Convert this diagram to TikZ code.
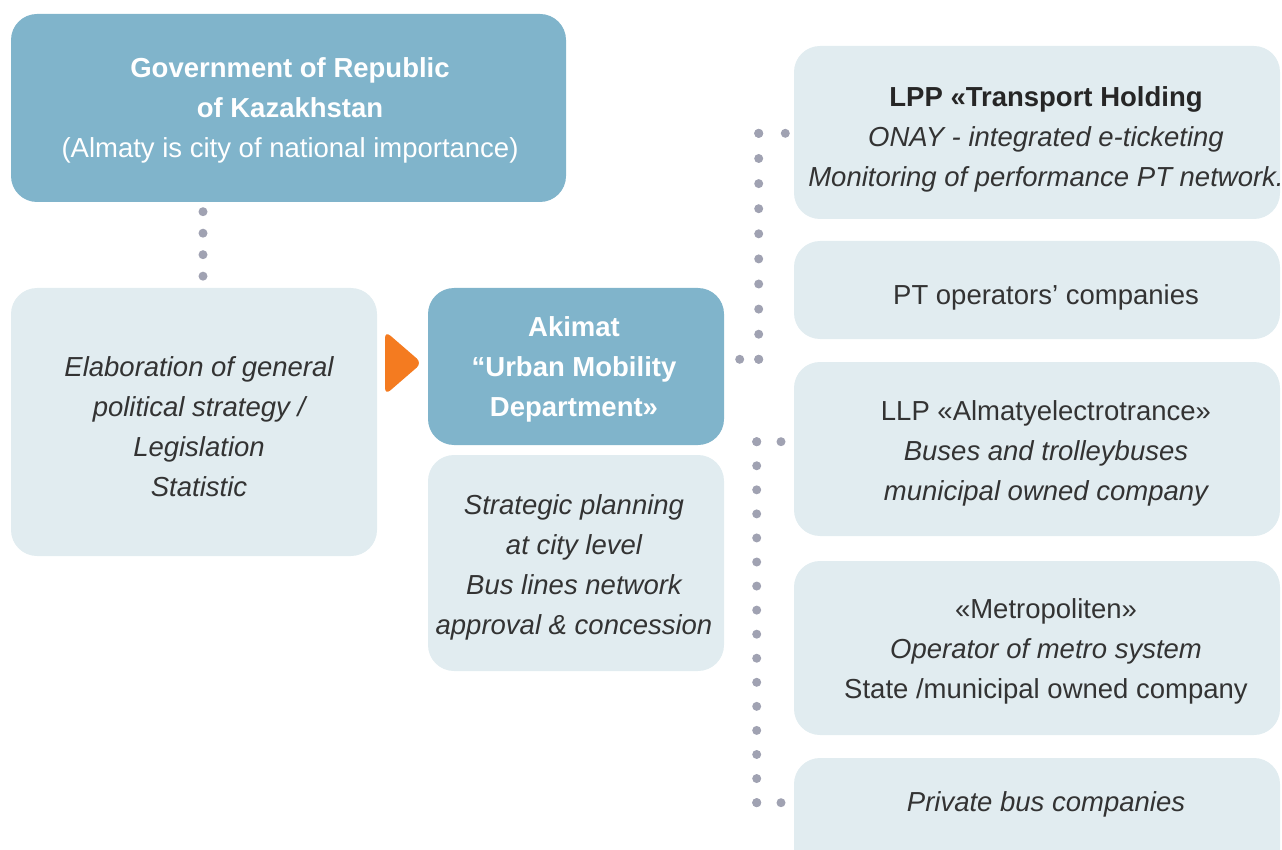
\documentclass[tikz,border=0pt]{standalone}
\usepackage{fontspec}
\setmainfont{Liberation Sans}
\definecolor{bluebox}{HTML}{80B4CB}
\definecolor{lightbox}{HTML}{E1ECF0}
\definecolor{dotc}{HTML}{A0A2B2}
\definecolor{txtc}{HTML}{333333}
\definecolor{orangec}{HTML}{F47B20}
\tikzset{
  boxbase/.style={rounded corners=26pt, inner sep=0pt, align=center, font=\fontsize{27.5}{40}\selectfont},
  bluenode/.style={boxbase, fill=bluebox, text=white},
  lightnode/.style={boxbase, fill=lightbox, text=txtc},
  txtnode/.style={inner sep=0pt, align=center, text=txtc, font=\fontsize{27.5}{40}\selectfont},
  dotline/.style={line width=9pt, line cap=round, draw=dotc, dash pattern=on 0pt off #1},
}
\begin{document}
\begin{tikzpicture}[x=1pt,y=-1pt]
\useasboundingbox (0,0) rectangle (1282,850);
% left part
\node[bluenode, minimum width=555, minimum height=188] (gov) at (288.5,108) {};
\node[txtnode, text=white] (govtxt) at (290,110)
  {\textbf{Government of Republic}\\\textbf{of Kazakhstan}\\(Almaty is city of national importance)};
\node[lightnode, minimum width=366, minimum height=268] (left) at (194,422) {};
\node[txtnode] (lefttxt) at (199,427)
  {\itshape Elaboration of general\\\itshape political strategy /\\\itshape Legislation\\\itshape Statistic};
\node[bluenode, minimum width=296, minimum height=157] (akimat) at (576,366.5) {};
\node[txtnode, text=white] (akimattxt) at (574,369.5)
  {\textbf{Akimat}\\\textbf{“Urban Mobility}\\\textbf{Department»}};
\node[lightnode, minimum width=296, minimum height=216] (strat) at (576,563) {};
\node[txtnode] (strattxt) at (574,567)
  {\itshape Strategic planning\\\itshape at city level\\\itshape Bus lines network\\\itshape approval \& concession};
% right column boxes
\node[lightnode, minimum width=486, minimum height=173] (lpp) at (1037,132.5) {};
\node[txtnode] (lpptxt) at (1046,139)
  {\textbf{\color{black!85}LPP «Transport Holding}\\\itshape ONAY - integrated e-ticketing\\\itshape Monitoring of performance PT network.};
\node[lightnode, minimum width=486, minimum height=98] (pt) at (1037,290) {};
\node[txtnode] (pttxt) at (1046,297) {PT operators’ companies};
\node[lightnode, minimum width=486, minimum height=174] (llp) at (1037,449) {};
\node[txtnode] (llptxt) at (1046,453)
  {LLP «Almatyelectrotrance»\\\itshape Buses and trolleybuses\\\itshape municipal owned company};
\node[lightnode, minimum width=486, minimum height=174] (metro) at (1037,648) {};
\node[txtnode] (metrotxt) at (1046,651)
  {«Metropoliten»\\\itshape Operator of metro system\\State /municipal owned company};
\node[lightnode, minimum width=486, minimum height=122] (priv) at (1037,819) {};
\node[txtnode] (privtxt) at (1046,804) {\itshape Private bus companies};
% orange marker between left box and akimat
\fill[orangec, rounded corners=7pt] (385,331) -- (422,363) -- (385,395) -- cycle;
% dotted connectors
\coordinate (g1) at (203,211.7);
\coordinate (g2) at (203,276.2);
\draw[dotline=21.49] (g1) -- (g2);
\coordinate (u0) at (739.7,359.3);
\coordinate (u1) at (758.7,359.3);
\coordinate (u2) at (758.7,133.3);
\coordinate (u3) at (785.3,133.3);
\draw[dotline=18.99] (u0) -- (u1);
\draw[dotline=25.10] (u1) -- (u2);
\draw[dotline=26.59] (u2) -- (u3);
\coordinate (l1) at (756.7,441.7);
\coordinate (l2) at (756.7,802.7);
\coordinate (l1e) at (781,441.7);
\coordinate (l2e) at (781,802.7);
\draw[dotline=24.06] (l1) -- (l2);
\draw[dotline=24.29] (l1) -- (l1e);
\draw[dotline=24.29] (l2) -- (l2e);
\end{tikzpicture}
\end{document}
